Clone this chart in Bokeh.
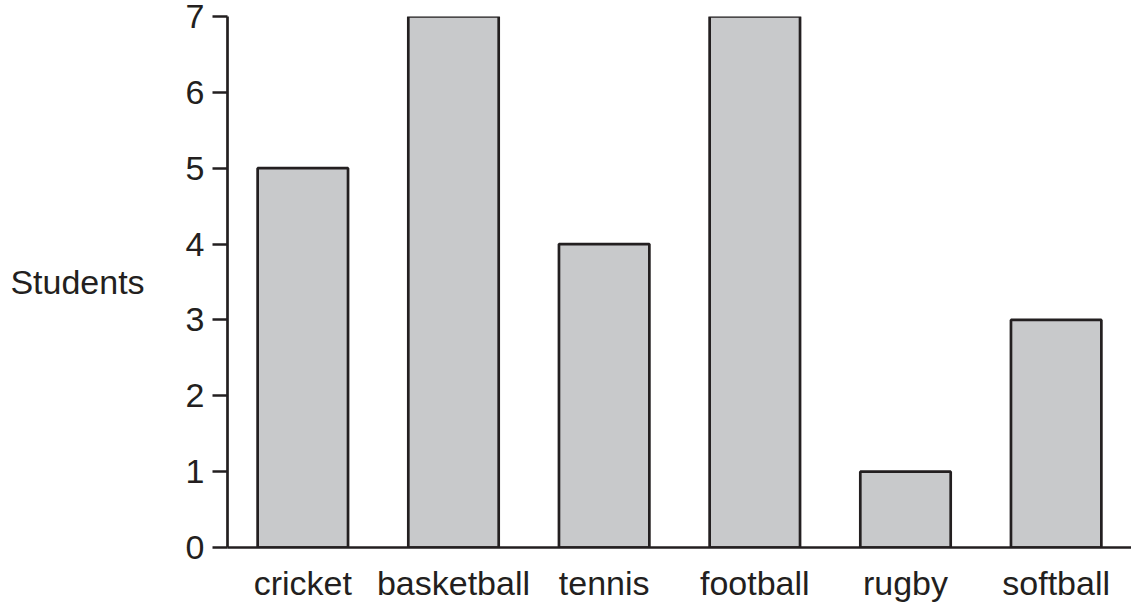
from bokeh.plotting import figure
from bokeh.models import FixedTicker, ColumnDataSource
from bokeh.embed import file_html
from bokeh.resources import INLINE

sports = ["cricket", "basketball", "tennis", "football", "rugby", "softball"]
students = [5, 7, 4, 7, 1, 3]
y_ticks = [0, 1, 2, 3, 4, 5, 6, 7]

INK = "#231f20"
FONT = "Liberation Sans"
FS = "34px"
LW = 2.7

src = ColumnDataSource(dict(sport=sports, students=students))

p = figure(x_range=sports, y_range=(0, 7), width=1131, height=604,
           output_backend="svg", toolbar_location=None,
           min_border_left=227, min_border_right=0, min_border_top=16, min_border_bottom=0)
p.x_range.range_padding = 0
p.vbar(x="sport", top="students", width=0.6, source=src,
       fill_color="#c8c9cb", line_color=INK, line_width=LW)

p.outline_line_color = None
p.xgrid.grid_line_color = None
p.ygrid.grid_line_color = None
p.background_fill_color = "white"

xa = p.xaxis[0]
xa.axis_line_color = INK
xa.axis_line_width = LW
xa.major_tick_line_color = None
xa.minor_tick_line_color = None
xa.major_label_text_font = FONT
xa.major_label_text_font_size = FS
xa.major_label_text_color = INK
xa.major_label_standoff = 10

ya = p.yaxis[0]
ya.ticker = FixedTicker(ticks=y_ticks)
ya.axis_line_color = INK
ya.axis_line_width = LW
ya.major_tick_line_color = INK
ya.major_tick_line_width = LW
ya.major_tick_out = 15
ya.major_tick_in = 0
ya.minor_tick_line_color = None
ya.major_label_text_font = FONT
ya.major_label_text_font_size = FS
ya.major_label_text_color = INK
ya.major_label_standoff = 8
ya.axis_label = "Students"
ya.axis_label_orientation = "horizontal"
ya.axis_label_text_font = FONT
ya.axis_label_text_font_size = FS
ya.axis_label_text_font_style = "normal"
ya.axis_label_text_color = INK
ya.axis_label_standoff = 38

open("out.html", "w").write(file_html(p, INLINE))
